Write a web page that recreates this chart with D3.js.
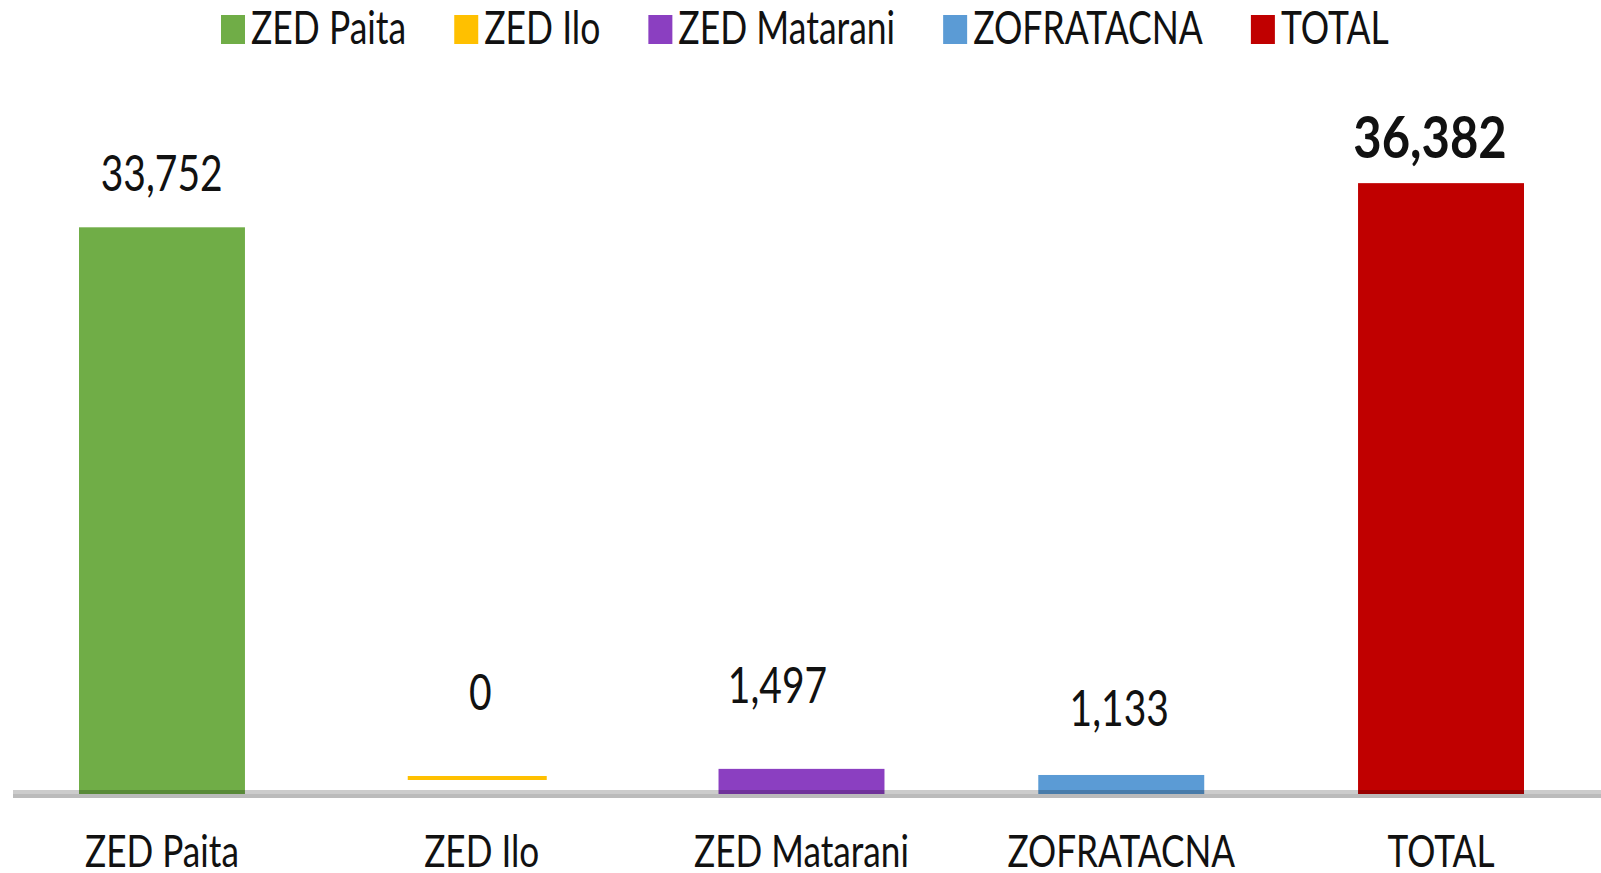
<!DOCTYPE html>
<html>
<head>
<meta charset="utf-8">
<script src="https://cdn.jsdelivr.net/npm/d3@7"></script>
<style>
  html, body { margin: 0; padding: 0; background: #fff; }
  svg { display: block; }
  text { font-family: Lato, "Open Sans", sans-serif; fill: #111; }
</style>
</head>
<body>
<svg id="chart" width="1601" height="873"></svg>
<script>
// ---- data ----
const categories = ["ZED Paita", "ZED Ilo", "ZED Matarani", "ZOFRATACNA", "TOTAL"];
const values = [33752, 0, 1497, 1133, 36382];
const legendLabels = ["ZED Paita", "ZED Ilo", "ZED Matarani", "ZOFRATACNA", "TOTAL"];

// ---- styles / layout ----
const palette = ["#70AD47", "#FFC000", "#8B3FC1", "#5B9BD5", "#C00000"];
const labelShift = [[-0.3, -36.6], [-1.5, -84], [-24, -66], [-2, -49], [-11, -25]];

const W = 1601, H = 873;
const svg = d3.select("#chart");

const x = d3.scaleBand().domain(categories).range([2.1, 1600.9])
  .paddingInner(0.481).paddingOuter(0.2405);
const y = d3.scaleLinear().domain([0, 40000]).range([794, 794 - 0.01679 * 40000]);

const fmt = d3.format(",");

// bars
svg.append("g").selectAll("rect.bar")
  .data(categories.map((c, i) => ({c, v: values[i], i})))
  .join("rect")
  .attr("class", "bar")
  .attr("x", d => x(d.c))
  .attr("width", x.bandwidth())
  .attr("y", d => y(d.v))
  .attr("height", d => y(0) - y(d.v))
  .attr("fill", d => palette[d.i]);

// zero-value marker (thin line)
categories.forEach((c, i) => {
  if (values[i] === 0) {
    const cx = x(c) + x.bandwidth() / 2 - 4.5;
    svg.append("rect")
      .attr("x", cx - 69.5).attr("width", 139)
      .attr("y", y(0) - 18).attr("height", 4)
      .attr("fill", palette[i]);
  }
});

// axis baseline (drawn via d3 axis then styled as band)
const axisG = svg.append("g").attr("transform", `translate(0, ${y(0)})`)
  .call(d3.axisBottom(x).tickSize(0).tickFormat(""));
axisG.select(".domain").remove();
axisG.append("rect").attr("x", 13).attr("width", W - 13).attr("y", -4).attr("height", 4)
  .attr("fill", "#000").attr("fill-opacity", 0.2);
axisG.append("rect").attr("x", 13).attr("width", W - 13).attr("y", 0).attr("height", 4)
  .attr("fill", "#bbbbbb");

// category labels
function stretched(g, tx, ty, txt, size, sy, weight) {
  g.append("text")
    .attr("transform", `translate(${tx},${ty}) scale(1,${sy})`)
    .attr("text-anchor", "middle")
    .attr("font-size", size)
    .attr("font-weight", weight || 400)
    .text(txt);
}
const catG = svg.append("g");
categories.forEach(c => {
  stretched(catG, x(c) + x.bandwidth() / 2, 867, c, 35.2, 1.26);
});

// value labels
const valG = svg.append("g");
categories.forEach((c, i) => {
  const cx = x(c) + x.bandwidth() / 2 + labelShift[i][0];
  const cy = y(values[i]) + labelShift[i][1];
  const isTotal = c === "TOTAL";
  stretched(valG, cx, cy, fmt(values[i]), isTotal ? 49 : 39, isTotal ? 1.18 : 1.27, isTotal ? 700 : 400);
});

// legend
const legG = svg.append("g");
let lx = 221;
legendLabels.forEach((l, i) => {
  legG.append("rect").attr("x", lx).attr("y", 15).attr("width", 24).attr("height", 29)
    .attr("fill", palette[i]);
  const t = legG.append("text")
    .attr("transform", `translate(${lx + 30},44) scale(1,1.29)`)
    .attr("font-size", 35.5)
    .text(l);
  const w = t.node().getComputedTextLength();
  lx = lx + 30 + w + 48;
});
</script>
</body>
</html>
